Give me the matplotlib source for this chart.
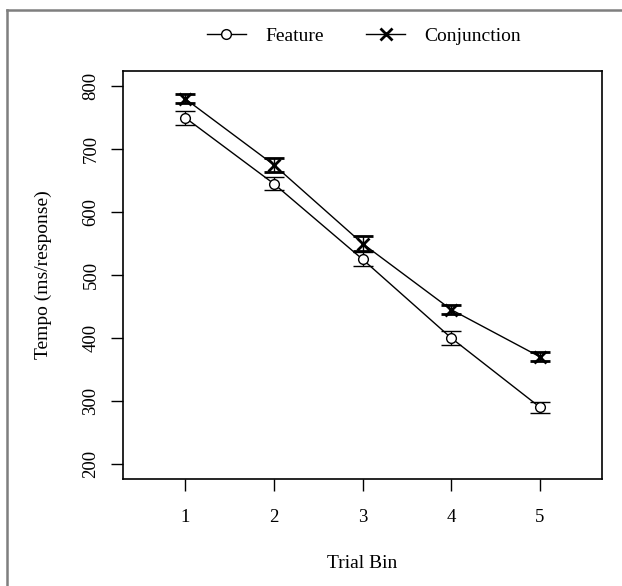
import matplotlib
matplotlib.use("Agg")
import matplotlib.pyplot as plt
from matplotlib.lines import Line2D
import numpy as np

plt.rcParams["font.family"] = ["Liberation Serif", "DejaVu Serif"]

# Mean tempo per trial bin, with error bar half-widths
trial_bin = [1, 2, 3, 4, 5]
feature_mean = [750, 645, 525, 400, 290]
feature_err = [11, 10, 11, 11, 9]
conj_mean = [780, 675, 550, 445, 370]
conj_err = [7, 11, 12, 7, 7]
y_ticks = [200, 300, 400, 500, 600, 700, 800]

fig = plt.figure(figsize=(6.22, 5.86), dpi=100)
ax = fig.add_axes([123 / 622, 1 - 479 / 586, 479 / 622, 408 / 586])

ax.errorbar(trial_bin, feature_mean, yerr=feature_err, color="black", lw=1.0,
            marker="o", ms=7, mfc="white", mec="black", mew=1.0,
            ecolor="black", elinewidth=1.0, capsize=7.5, capthick=1.0,
            label="Feature", zorder=3)
ax.errorbar(trial_bin, conj_mean, yerr=conj_err, color="black", lw=1.0,
            marker="x", ms=8.5, mew=2.0,
            ecolor="black", elinewidth=1.0, capsize=7.5, capthick=1.0,
            label="Conjunction", zorder=3)

ax.set_xlim(0.3, 5.7)
ax.set_ylim(176, 824)
ax.set_xticks(trial_bin)
ax.set_yticks(y_ticks)
ax.set_yticklabels([str(v) for v in y_ticks], rotation=90, va="center")
ax.tick_params(axis="both", length=8.5, width=1.0, labelsize=13.5, color="black")
ax.tick_params(axis="x", pad=13)
ax.tick_params(axis="y", pad=8.5)
for sp in ax.spines.values():
    sp.set_linewidth(1.2)

ax.set_ylabel("Tempo (ms/response)", fontsize=14, va="center")
ax.yaxis.set_label_coords(-0.167, 0.5)
ax.set_xlabel("Trial Bin", fontsize=14, va="center")
ax.xaxis.set_label_coords(0.5, -0.206)

handles = [
    Line2D([], [], color="black", lw=1.0, marker="o", ms=7, mfc="white", mec="black"),
    Line2D([], [], color="black", lw=1.0, marker="x", ms=8.5, mew=2.0),
]
fig.legend(handles, ["Feature", "Conjunction"], ncol=2, frameon=False,
           loc="center", bbox_to_anchor=(364 / 622, 1 - 36 / 586),
           fontsize=14, handlelength=2.0, handletextpad=1.0, columnspacing=2.2)

# outer grey frame (left and top edges)
fig.add_artist(Line2D([7 / 622, 7 / 622], [0, 1 - 10 / 586], color="#7f7f7f", lw=1.8,
                      transform=fig.transFigure))
fig.add_artist(Line2D([7 / 622, 1], [1 - 10 / 586, 1 - 10 / 586], color="#7f7f7f", lw=1.8,
                      transform=fig.transFigure))

fig.savefig("out.png", dpi=100)
plt.close(fig)
